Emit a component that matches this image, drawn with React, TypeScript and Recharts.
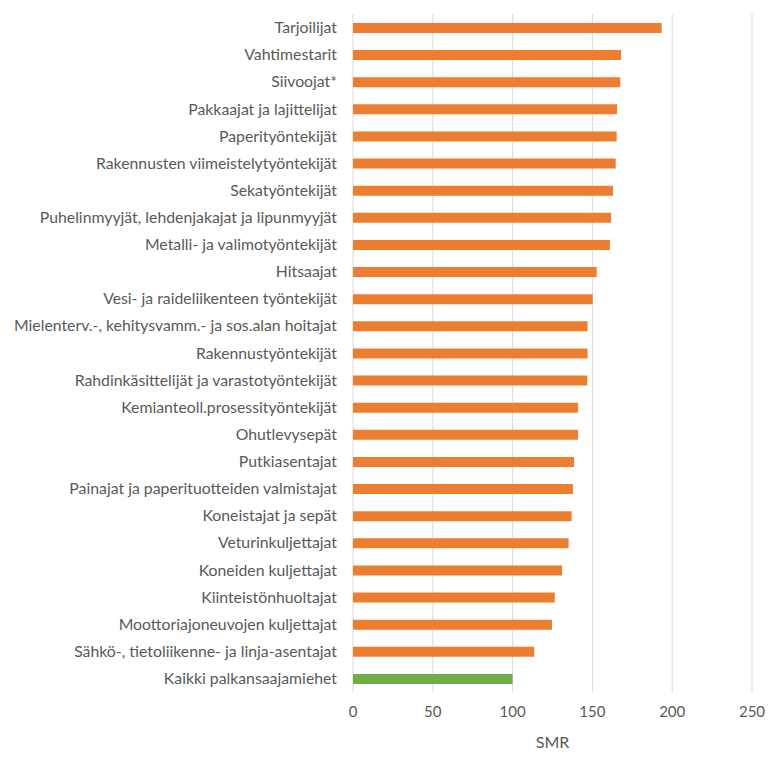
import React from 'react';
import { BarChart, Bar, XAxis, YAxis, CartesianGrid, Cell, Label } from 'recharts';

const occupations: string[] = [
  'Tarjoilijat',
  'Vahtimestarit',
  'Siivoojat*',
  'Pakkaajat ja lajittelijat',
  'Paperityöntekijät',
  'Rakennusten viimeistelytyöntekijät',
  'Sekatyöntekijät',
  'Puhelinmyyjät, lehdenjakajat ja lipunmyyjät',
  'Metalli- ja valimotyöntekijät',
  'Hitsaajat',
  'Vesi- ja raideliikenteen työntekijät',
  'Mielenterv.-, kehitysvamm.- ja sos.alan hoitajat',
  'Rakennustyöntekijät',
  'Rahdinkäsittelijät ja varastotyöntekijät',
  'Kemianteoll.prosessityöntekijät',
  'Ohutlevysepät',
  'Putkiasentajat',
  'Painajat ja paperituotteiden valmistajat',
  'Koneistajat ja sepät',
  'Veturinkuljettajat',
  'Koneiden kuljettajat',
  'Kiinteistönhuoltajat',
  'Moottoriajoneuvojen kuljettajat',
  'Sähkö-, tietoliikenne- ja linja-asentajat',
  'Kaikki palkansaajamiehet',
];

const smr: number[] = [
  193.4, 168, 167.5, 165.4, 165.2, 164.6, 162.9, 161.7, 161, 152.7, 150.2, 147, 147,
  146.8, 141, 141, 138.5, 137.8, 137, 135.1, 131, 126.4, 124.7, 113.6, 100,
];

const xTicks: number[] = [0, 50, 100, 150, 200, 250];

const ORANGE = '#ED7D31';
const GREEN = '#70AD47';
const TEXT = '#595959';
const FONT = 'Lato, "Liberation Sans", sans-serif';

const data = occupations.map((name, i) => ({ name, smr: smr[i] }));

const App: React.FC = () => {
  return (
    <div style={{ width: 768, height: 750, fontFamily: FONT }}>
      <BarChart
        width={768}
        height={750}
        data={data}
        layout="vertical"
        margin={{ top: 6, right: 24, bottom: 6, left: 0 }}
        barCategoryGap={0}
      >
        <CartesianGrid horizontal={false} stroke="#d9d9d9" />
        <XAxis
          type="number"
          domain={[0, 250]}
          ticks={xTicks}
          axisLine={false}
          tickLine={false}
          tickMargin={8}
          height={60}
          tick={{ fill: TEXT, fontSize: 15, fontFamily: FONT }}
        >
          <Label
            value="SMR"
            position="insideBottom"
            offset={4}
            style={{ fill: TEXT, fontSize: 16, fontFamily: FONT }}
          />
        </XAxis>
        <YAxis
          type="category"
          dataKey="name"
          width={345}
          interval={0}
          axisLine={false}
          tickLine={false}
          tickMargin={10}
          tick={{ fill: TEXT, fontSize: 15.8, fontFamily: FONT }}
        />
        <Bar dataKey="smr" barSize={10} isAnimationActive={false}>
          {data.map((d, i) => (
            <Cell key={d.name} fill={i === data.length - 1 ? GREEN : ORANGE} />
          ))}
        </Bar>
      </BarChart>
    </div>
  );
};

export default App;
